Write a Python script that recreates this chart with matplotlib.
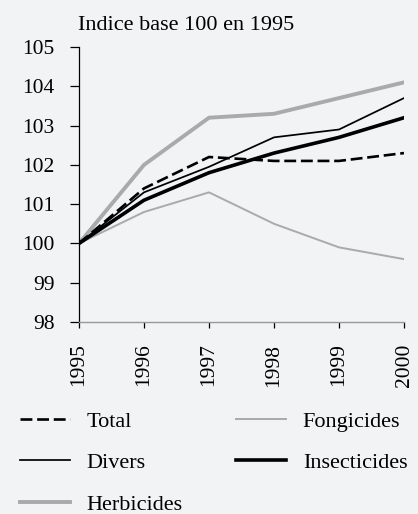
import matplotlib
matplotlib.use("Agg")
import matplotlib.pyplot as plt

years = [1995, 1996, 1997, 1998, 1999, 2000]
total = [100, 101.4, 102.2, 102.1, 102.1, 102.3]
divers = [100, 101.3, 101.95, 102.7, 102.9, 103.7]
herbicides = [100, 102.0, 103.2, 103.3, 103.7, 104.1]
fongicides = [100, 100.8, 101.3, 100.5, 99.9, 99.6]
insecticides = [100, 101.1, 101.8, 102.3, 102.7, 103.2]
yticks = [98, 99, 100, 101, 102, 103, 104, 105]

plt.rcParams['font.family'] = ['Liberation Serif', 'DejaVu Serif']
bg = '#f2f3f5'
fig = plt.figure(figsize=(4.18, 5.14), dpi=100, facecolor=bg)
ax = fig.add_axes([79/418, 1-322/514, (404-79)/418, (322-47)/514])
ax.set_facecolor(bg)

l_total, = ax.plot(years, total, color='black', lw=1.9, ls=(0, (4.5, 1.8)), label='Total')
l_div, = ax.plot(years, divers, color='black', lw=1.25, label='Divers')
l_herb, = ax.plot(years, herbicides, color='#aaaaaa', lw=2.8, label='Herbicides')
l_fong, = ax.plot(years, fongicides, color='#aaaaaa', lw=1.4, label='Fongicides')
l_ins, = ax.plot(years, insecticides, color='black', lw=2.6, label='Insecticides')
l_herb.set_zorder(1); l_fong.set_zorder(1); l_div.set_zorder(2); l_ins.set_zorder(3); l_total.set_zorder(4)

ax.set_xlim(1995, 2000)
ax.set_ylim(98, 105)
ax.set_yticks(yticks)
ax.set_xticks(years)
ax.set_xticklabels([str(y) for y in years], rotation=90)
for s in ['top', 'right']:
    ax.spines[s].set_visible(False)
ax.spines['left'].set_color('black')
ax.spines['left'].set_linewidth(0.9)
ax.spines['bottom'].set_color('#999999')
ax.spines['bottom'].set_linewidth(1.0)
ax.tick_params(axis='y', direction='out', length=6.5, width=0.9, color='black', labelsize=15.5, pad=11)
ax.tick_params(axis='x', direction='out', length=4.5, width=0.9, color='black', labelsize=15.5, pad=11)

fig.text(78/418, 1-30/514, 'Indice base 100 en 1995', fontsize=16, ha='left', va='baseline')

leg = fig.legend(handles=[l_total, l_div, l_herb, l_fong, l_ins], ncol=2, frameon=False,
                 loc='upper left', bbox_to_anchor=(20/418, 1-411/514), fontsize=16,
                 borderpad=0, borderaxespad=0,
                 handlelength=2.25, handletextpad=0.75, columnspacing=2.4, labelspacing=0.95)
fig.savefig('out.png', dpi=100, facecolor=bg)
